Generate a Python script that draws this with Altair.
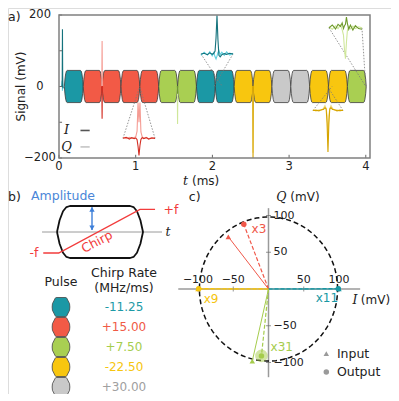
import altair as alt
import numpy as np
import pandas as pd

FONT = "DejaVu Sans"
SERIF = "DejaVu Serif"
W, H = 383, 386

# ---------------- panel a : data ----------------
T_MAX = 4.055
X_TICKS = [0, 1, 2, 3, 4]
X_TICK_TEXT = ["0", "1", "2", "3", "4"]
Y_TICKS = [-200, -100, 0, 100, 200]
Y_LABELED = [-200, 0, 200]
Y_LABEL_TEXT = ["\u2212200", "0", "200"]

PULSE_SEQ = ["teal", "red", "red", "red", "red", "green", "green", "teal", "teal",
             "yellow", "yellow", "gray", "gray", "yellow", "yellow", "green"]
PULSE_START = 0.07
PULSE_LEN = 0.246
PULSE_AMP = 45
ENV_FRAC = [0, 0.03, 0.07, 0.11, 0.15, 0.85, 0.89, 0.93, 0.97, 1]
ENV_VAL = [0, 0.45, 0.8, 0.96, 1, 1, 0.96, 0.8, 0.45, 0]

FILL = {"teal": "#1b98a5", "red": "#f25a46", "green": "#a9cf52",
        "yellow": "#f8c60f", "gray": "#c9c9c9"}
DARK = {"teal": "#15737d", "red": "#d42f24", "green": "#6f9a2c", "yellow": "#d6a400"}
LIGHT = {"teal": "#5fd0df", "red": "#f59c94", "green": "#cfe79a", "yellow": "#f4dc80"}

# isolated echo spikes: (colour, time ms, I values, Q values) at offsets SPIKE_DT
SPIKE_DT = [-0.012, -0.006, -0.003, 0, 0.003, 0.006, 0.012]
SPIKES = [
    ("teal", 0.045, [0, 0, 20, 160, 30, -5, 0], [0, 6, 16, -12, 8, 0, 0]),
    ("red", 0.562, [0, 0, -20, -90, -15, 0, 0], [0, 0, 30, 127, 25, 0, 0]),
    ("green", 1.546, [0, 0, -5, -20, -5, 0, 0], [0, 0, -20, -105, -15, 0, 0]),
    ("yellow", 2.53, [0, 0, -30, -200, -30, 0, 0], [0, 0, -25, -185, -20, 0, 0]),
]

# magnified insets: local position u in [-1, 1]
INSET_U = [-1, -0.8, -0.6, -0.45, -0.3, -0.2, -0.12, -0.06, 0, 0.06, 0.12, 0.2, 0.3, 0.45, 0.6, 0.8, 1]
INSETS = [
    dict(color="red", center=1.043, half=0.209, base=-145, target=[1.052, 1.052],
         I=[0, 3, -2, 2, -1, 1, -4, -22, -48, -20, -3, 2, -1, 2, -2, 1, 0],
         Q=[2, -1, 3, 0, 2, 5, 20, 100, 45, 100, 18, 4, 1, 3, -1, 2, 0]),
    dict(color="teal", center=2.06, half=0.209, base=91, target=[2.13, 2.02],
         I=[0, 2, -2, 3, -1, 2, 8, 45, 108, 40, -4, -8, -2, 1, -1, 2, 0],
         Q=[-4, 5, -3, 6, -5, 4, -8, -14, -6, 4, 9, -2, 5, -4, 6, -3, 2]),
    dict(color="yellow", center=3.507, half=0.196, base=-67, target=[3.56, 3.50],
         I=[0, 1, -1, 2, 3, 8, 4, -35, -116, -35, 4, 8, 3, 2, -1, 1, 0],
         Q=[3, -2, 2, 0, 6, 14, 6, -15, -80, -15, 6, 14, 6, 0, 2, -2, 2]),
    dict(color="green", center=3.735, half=0.215, base=164, target=[4.0, 4.0],
         I=[0, 8, -3, 10, 4, 14, -2, 6, 10, 30, 12, -4, 8, -6, 6, -2, -4],
         Q=[3, -4, 6, -2, 8, -5, -20, -60, -86, -40, -6, 4, -3, 5, -2, 3, 0]),
]

# ---------------- panel b : data ----------------
PULSE_NAMES = ["teal", "red", "green", "yellow", "gray"]
CHIRP_RATES = ["-11.25", "+15.00", "+7.50", "-22.50", "+30.00"]
RATE_COLORS = ["#1d9aa6", "#f05a46", "#a5cd4e", "#f6c50e", "#a0a0a0"]
CHIRP_T = [-0.16, 0.02, 0.965, 1.14]
CHIRP_F = [-0.81, -0.81, 0.87, 0.87]
T_AXIS = [-0.174, 1.221]

# ---------------- panel c : data ----------------
C_TICKS = [-100, -50, 50, 100]
C_TICK_TEXT = ["\u2212100", "\u221250", "50", "100"]
CIRCLE_R = 98
VEC = ["red", "yellow", "teal", "green"]
VEC_COL = ["#f0584a", "#f6c40d", "#1898a4", "#a5cc4c"]
IN_I = [-57, -100, 100, -23]
IN_Q = [71, 0, 0, -98]
OUT_I = [-35, -99, 99, -10]
OUT_Q = [88, 0.5, 0.5, -91]
MULT = ["x3", "x9", "x11", "x31"]
MULT_I = [-24, -92, 67, 3]
MULT_Q = [82, -14, -12, -79]

# ---------------- scales ----------------
def S(domain, rng):
    return alt.Scale(domain=domain, range=rng, nice=False, zero=False)

SA_X = S([0, T_MAX], [51, 362])
SA_Y = S([-200, 200], [150, 7])
SB_X = S([0, 1], [49, 135])
SB_Y = S([-1, 1], [250, 198])
TB_X = S([0, 1], [53, 116])
TB_Y = S([0, 4], [299, 379])
SC_X = S([-100, 100], [190, 331])
SC_Y = S([-100, 100], [354.5, 207.5])


def X(field, sc):
    return alt.X(field, type="quantitative", scale=sc, axis=None)


def Y(field, sc):
    return alt.Y(field, type="quantitative", scale=sc, axis=None)


L = []

# ================= panel a =================
rows = []
for k, name in enumerate(PULSE_SEQ):
    t0 = PULSE_START + k * PULSE_LEN
    for f, e in zip(ENV_FRAC, ENV_VAL):
        rows.append(dict(pulse=k, t=t0 + f * PULSE_LEN, hi=PULSE_AMP * e,
                         lo=-PULSE_AMP * e, fill=FILL[name]))
L.append(alt.Chart(pd.DataFrame(rows)).mark_area(stroke="#3b3b3b", strokeWidth=0.8).encode(
    x=X("t", SA_X), y=Y("hi", SA_Y), y2="lo",
    fill=alt.Fill("fill:N", scale=None), detail="pulse:N"))

# connectors
rows = []
for j, ins in enumerate(INSETS):
    ends = [ins["center"] - ins["half"], ins["center"] + ins["half"]]
    for m in range(2):
        rows.append(dict(id=f"{j}-{m}", k=0, t=ends[m], v=ins["base"]))
        rows.append(dict(id=f"{j}-{m}", k=1, t=ins["target"][m], v=0))
L.append(alt.Chart(pd.DataFrame(rows)).mark_line(
    strokeDash=[1.5, 1.5], color="#7a7a7a", strokeWidth=0.8).encode(
    x=X("t", SA_X), y=Y("v", SA_Y), detail="id:N", order="k:Q"))

# traces
light_rows, dark_rows = [], []
for j, (c, t0, iv, qv) in enumerate(SPIKES):
    for k, dt in enumerate(SPIKE_DT):
        dark_rows.append(dict(id=f"s{j}", k=k, t=t0 + dt, v=iv[k], col=DARK[c]))
        light_rows.append(dict(id=f"s{j}", k=k, t=t0 + dt, v=qv[k], col=LIGHT[c]))
for j, ins in enumerate(INSETS):
    for k, u in enumerate(INSET_U):
        t = ins["center"] + u * ins["half"]
        dark_rows.append(dict(id=f"i{j}", k=k, t=t, v=ins["base"] + ins["I"][k], col=DARK[ins["color"]]))
        light_rows.append(dict(id=f"i{j}", k=k, t=t, v=ins["base"] + ins["Q"][k], col=LIGHT[ins["color"]]))
for rr in (light_rows, dark_rows):
    L.append(alt.Chart(pd.DataFrame(rr)).mark_line(strokeWidth=1.1).encode(
        x=X("t", SA_X), y=Y("v", SA_Y), color=alt.Color("col:N", scale=None),
        detail="id:N", order="k:Q"))

# legend I / Q
L.append(alt.Chart(pd.DataFrame(dict(t=[0.1, 0.1], v=[-123, -169], label=["I", "Q"]))).mark_text(
    font=SERIF, fontStyle="italic", fontSize=13, color="#222").encode(
    x=X("t", SA_X), y=Y("v", SA_Y), text="label:N"))
L.append(alt.Chart(pd.DataFrame(dict(x0=[0.28, 0.28], x1=[0.40, 0.40], v=[-123, -169],
                                     col=["#555555", "#c4c4c4"]))).mark_rule(strokeWidth=1.6).encode(
    x=X("x0", SA_X), x2="x1", y=Y("v", SA_Y), color=alt.Color("col:N", scale=None)))

# ticks
L.append(alt.Chart(pd.DataFrame(dict(x0=[0] * 5, x1=[0.04] * 5, v=Y_TICKS))).mark_rule(
    color="#666", strokeWidth=1).encode(x=X("x0", SA_X), x2="x1", y=Y("v", SA_Y)))
L.append(alt.Chart(pd.DataFrame(dict(v=X_TICKS, y0=[-200] * 5, y1=[-191] * 5))).mark_rule(
    color="#666", strokeWidth=1).encode(x=X("v", SA_X), y=Y("y0", SA_Y), y2="y1"))
L.append(alt.Chart(pd.DataFrame(dict(v=Y_LABELED, label=Y_LABEL_TEXT))).mark_text(
    fontSize=11.5, align="center", baseline="middle", color="#222").encode(
    x=alt.value(32), y=Y("v", SA_Y), text="label:N"))
L.append(alt.Chart(pd.DataFrame(dict(v=X_TICKS, label=X_TICK_TEXT))).mark_text(
    fontSize=11.5, align="center", baseline="middle", color="#222").encode(
    x=X("v", SA_X), y=alt.value(159), text="label:N"))

# frame
L.append(alt.Chart(pd.DataFrame(dict(x0=[0], x1=[T_MAX], y0=[-200], y1=[200]))).mark_rect(
    fillOpacity=0, stroke="#808080", strokeWidth=1.5).encode(
    x=X("x0", SA_X), x2="x1", y=Y("y0", SA_Y), y2="y1"))

# titles
L.append(alt.Chart(pd.DataFrame(dict(label=["Signal (mV)"]))).mark_text(
    fontSize=12, angle=270, align="center", baseline="middle", color="#222").encode(
    x=alt.value(13), y=alt.value(78.5), text="label:N"))
L.append(alt.Chart(pd.DataFrame(dict(label=["t"]))).mark_text(
    font=SERIF, fontStyle="italic", fontSize=12.5, align="left", baseline="middle", color="#222").encode(
    x=alt.value(175), y=alt.value(173), text="label:N"))
L.append(alt.Chart(pd.DataFrame(dict(label=["(ms)"]))).mark_text(
    fontSize=12, align="left", baseline="middle", color="#222").encode(
    x=alt.value(184), y=alt.value(173), text="label:N"))
L.append(alt.Chart(pd.DataFrame(dict(label=["a)", "b)"], py=[9, 189]))).mark_text(
    fontSize=12.5, align="left", baseline="middle", color="#222").encode(
    x=alt.value(0), y=alt.Y("py:Q", scale=None, axis=None), text="label:N"))

# ================= panel b : schematic =================
L.append(alt.Chart(pd.DataFrame(dict(t=T_AXIS, a=[0, 0]))).mark_line(
    color="#9a9a9a", strokeWidth=1).encode(x=X("t", SB_X), y=Y("a", SB_Y)))
rows = []
for k, (f, e) in enumerate(zip(ENV_FRAC, ENV_VAL)):
    rows.append(dict(i=k, t=f, a=e))
n = len(ENV_FRAC)
for k, (f, e) in enumerate(zip(ENV_FRAC[::-1], ENV_VAL[::-1])):
    rows.append(dict(i=n + k, t=f, a=-e))
L.append(alt.Chart(pd.DataFrame(rows)).mark_line(color="#111", strokeWidth=1.8, strokeJoin="round").encode(
    x=X("t", SB_X), y=Y("a", SB_Y), order="i:Q"))
L.append(alt.Chart(pd.DataFrame(dict(t=CHIRP_T, a=CHIRP_F, i=list(range(4))))).mark_line(
    color="#f23c3c", strokeWidth=1.4).encode(x=X("t", SB_X), y=Y("a", SB_Y), order="i:Q"))
L.append(alt.Chart(pd.DataFrame(dict(t=[0.407, 0.407], a=[0.08, 0.95]))).mark_line(
    color="#3d7fd9", strokeWidth=1.4).encode(x=X("t", SB_X), y=Y("a", SB_Y)))
L.append(alt.Chart(pd.DataFrame(dict(t=[0.407, 0.407], a=[0.87, 0.16],
                                     s=["triangle-up", "triangle-down"]))).mark_point(
    filled=True, color="#3d7fd9", size=28, opacity=1).encode(
    x=X("t", SB_X), y=Y("a", SB_Y), shape=alt.Shape("s:N", scale=None)))
L.append(alt.Chart(pd.DataFrame(dict(t=[0.07], a=[1.38], label=["Amplitude"]))).mark_text(
    fontSize=12.5, color="#4a86d8").encode(x=X("t", SB_X), y=Y("a", SB_Y), text="label:N"))
L.append(alt.Chart(pd.DataFrame(dict(t=[-0.267, 1.326], a=[-0.81, 0.85], label=["-f", "+f"]))).mark_text(
    fontSize=12.5, color="#f23c3c").encode(x=X("t", SB_X), y=Y("a", SB_Y), text="label:N"))
L.append(alt.Chart(pd.DataFrame(dict(t=[0.465], a=[-0.38], label=["Chirp"]))).mark_text(
    fontSize=12.5, color="#f23c3c", angle=332).encode(x=X("t", SB_X), y=Y("a", SB_Y), text="label:N"))
L.append(alt.Chart(pd.DataFrame(dict(t=[1.29], a=[0.0], label=["t"]))).mark_text(
    font=SERIF, fontStyle="italic", fontSize=12.5, color="#222").encode(
    x=X("t", SB_X), y=Y("a", SB_Y), text="label:N"))

# ================= panel b : table =================
L.append(alt.Chart(pd.DataFrame(dict(c=[0, 1, 1], r=[-1.25, -1.7, -0.95],
                                     label=["Pulse", "Chirp Rate", "(MHz/ms)"]))).mark_text(
    fontSize=12.5, color="#222").encode(x=X("c", TB_X), y=Y("r", TB_Y), text="label:N"))
HEX_PATH = ("M -0.93 0 L -0.9 -0.35 L -0.6 -0.94 Q -0.56 -1 -0.5 -1 L 0.5 -1 Q 0.56 -1 0.6 -0.94 "
            "L 0.9 -0.35 L 0.93 0 L 0.9 0.35 L 0.6 0.94 Q 0.56 1 0.5 1 L -0.5 1 Q -0.56 1 -0.6 0.94 "
            "L -0.9 0.35 Z")
L.append(alt.Chart(pd.DataFrame(dict(c=[0] * 5, r=list(range(5)),
                                     fill=[FILL[p] for p in PULSE_NAMES]))).mark_point(
    shape=HEX_PATH, size=361, filled=True, stroke="#444", strokeWidth=0.8, opacity=1).encode(
    x=X("c", TB_X), y=Y("r", TB_Y), fill=alt.Fill("fill:N", scale=None)))
L.append(alt.Chart(pd.DataFrame(dict(c=[1] * 5, r=list(range(5)), label=CHIRP_RATES,
                                     col=RATE_COLORS))).mark_text(fontSize=12).encode(
    x=X("c", TB_X), y=Y("r", TB_Y), text="label:N", color=alt.Color("col:N", scale=None)))

# ================= panel c =================
L.append(alt.Chart(pd.DataFrame(dict(x0=[-128], x1=[130], v=[0]))).mark_rule(
    color="#9a9a9a", strokeWidth=1.5).encode(x=X("x0", SC_X), x2="x1", y=Y("v", SC_Y)))
L.append(alt.Chart(pd.DataFrame(dict(y0=[-120], y1=[110], v=[0]))).mark_rule(
    color="#9a9a9a", strokeWidth=1.5).encode(y=Y("y0", SC_Y), y2="y1", x=X("v", SC_X)))
L.append(alt.Chart(pd.DataFrame(dict(v=C_TICKS, z=[0] * 4))).mark_tick(
    color="#666", size=5, thickness=1, orient="vertical").encode(x=X("v", SC_X), y=Y("z", SC_Y)))
L.append(alt.Chart(pd.DataFrame(dict(v=C_TICKS, z=[0] * 4))).mark_tick(
    color="#666", size=5, thickness=1, orient="horizontal").encode(y=Y("v", SC_Y), x=X("z", SC_X)))
L.append(alt.Chart(pd.DataFrame(dict(v=C_TICKS, z=[0] * 4, label=C_TICK_TEXT))).mark_text(
    fontSize=11, dy=-9, color="#222").encode(x=X("v", SC_X), y=Y("z", SC_Y), text="label:N"))
L.append(alt.Chart(pd.DataFrame(dict(v=C_TICKS[::-1], z=[0] * 4, label=C_TICK_TEXT[::-1]))).mark_text(
    fontSize=11, dx=5, align="left", color="#222").encode(y=Y("v", SC_Y), x=X("z", SC_X), text="label:N"))

ang = np.deg2rad(np.arange(0, 361, 4))
L.append(alt.Chart(pd.DataFrame(dict(i=np.arange(len(ang)), x=CIRCLE_R * np.cos(ang),
                                     y=CIRCLE_R * np.sin(ang)))).mark_line(
    color="#111", strokeWidth=1.5, strokeDash=[5, 3]).encode(
    x=X("x", SC_X), y=Y("y", SC_Y), order="i:Q"))

rows_in, rows_out = [], []
for j in range(4):
    rows_in += [dict(id=j, k=0, x=0, y=0, col=VEC_COL[j]), dict(id=j, k=1, x=IN_I[j], y=IN_Q[j], col=VEC_COL[j])]
    rows_out += [dict(id=j, k=0, x=0, y=0, col=VEC_COL[j]), dict(id=j, k=1, x=OUT_I[j], y=OUT_Q[j], col=VEC_COL[j])]
L.append(alt.Chart(pd.DataFrame(rows_in)).mark_line(strokeWidth=1).encode(
    x=X("x", SC_X), y=Y("y", SC_Y), color=alt.Color("col:N", scale=None), detail="id:N", order="k:Q"))
L.append(alt.Chart(pd.DataFrame(rows_out)).mark_line(strokeWidth=1.2, strokeDash=[4, 2]).encode(
    x=X("x", SC_X), y=Y("y", SC_Y), color=alt.Color("col:N", scale=None), detail="id:N", order="k:Q"))
L.append(alt.Chart(pd.DataFrame(dict(x=[OUT_I[3]], y=[OUT_Q[3]]))).mark_point(
    filled=True, size=160, color="#a5cc4c", opacity=0.5, shape="circle").encode(
    x=X("x", SC_X), y=Y("y", SC_Y)))
L.append(alt.Chart(pd.DataFrame(dict(x=IN_I, y=IN_Q, col=VEC_COL))).mark_point(
    filled=True, size=30, shape="triangle-up", opacity=1).encode(
    x=X("x", SC_X), y=Y("y", SC_Y), color=alt.Color("col:N", scale=None)))
L.append(alt.Chart(pd.DataFrame(dict(x=OUT_I, y=OUT_Q, col=VEC_COL))).mark_point(
    filled=True, size=30, shape="circle", opacity=1).encode(
    x=X("x", SC_X), y=Y("y", SC_Y), color=alt.Color("col:N", scale=None)))
L.append(alt.Chart(pd.DataFrame(dict(x=MULT_I, y=MULT_Q, label=MULT, col=VEC_COL))).mark_text(
    fontSize=12, align="left").encode(
    x=X("x", SC_X), y=Y("y", SC_Y), text="label:N", color=alt.Color("col:N", scale=None)))

# legend
L.append(alt.Chart(pd.DataFrame(dict(x=[82, 82], y=[-88, -113], s=["triangle-up", "circle"]))).mark_point(
    filled=True, size=30, color="#9a9a9a", opacity=1).encode(
    x=X("x", SC_X), y=Y("y", SC_Y), shape=alt.Shape("s:N", scale=None)))
L.append(alt.Chart(pd.DataFrame(dict(x=[97, 97], y=[-88, -113], label=["Input", "Output"]))).mark_text(
    fontSize=12.5, align="left", color="#222").encode(x=X("x", SC_X), y=Y("y", SC_Y), text="label:N"))

# titles
L.append(alt.Chart(pd.DataFrame(dict(x=[-113], y=[125], label=["c)"]))).mark_text(
    fontSize=12.5, align="left", color="#222").encode(x=X("x", SC_X), y=Y("y", SC_Y), text="label:N"))
L.append(alt.Chart(pd.DataFrame(dict(x=[11, 119], y=[125, -15], label=["Q", "I"]))).mark_text(
    font=SERIF, fontStyle="italic", fontSize=12.5, align="left", color="#222").encode(
    x=X("x", SC_X), y=Y("y", SC_Y), text="label:N"))
L.append(alt.Chart(pd.DataFrame(dict(x=[31, 131], y=[125, -15], label=["(mV)", "(mV)"]))).mark_text(
    fontSize=12, align="left", color="#222").encode(
    x=X("x", SC_X), y=Y("y", SC_Y), text="label:N"))

chart = alt.layer(*L).resolve_scale(
    x="independent", y="independent"
).properties(
    width=W, height=H, padding=0, autosize=alt.AutoSizeParams(type="none")
).configure_view(stroke=None).configure(font=FONT)

chart.save("out.html", embed_options={"renderer": "svg", "actions": False})
